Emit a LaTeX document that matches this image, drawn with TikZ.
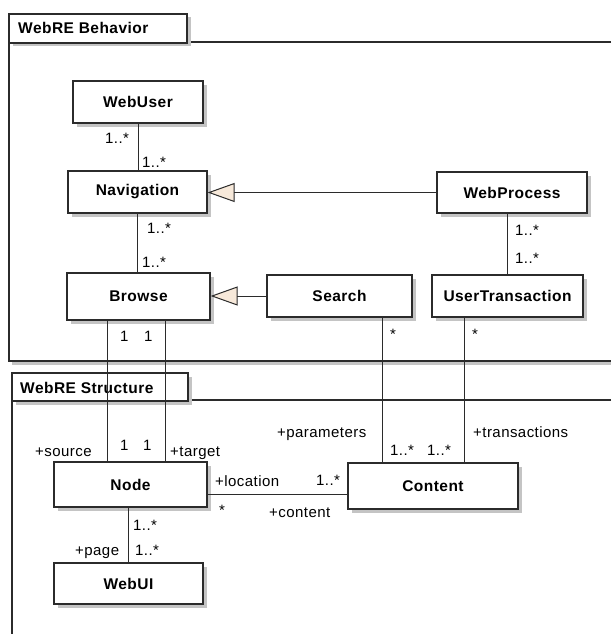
\documentclass[tikz,border=0pt]{standalone}
\usepackage{fontspec}
\setmainfont{Liberation Sans}[LetterSpace=3]
\usetikzlibrary{arrows.meta,shadows}
\definecolor{umlline}{HTML}{2B2B2B}
\definecolor{umltri}{HTML}{F7E9DA}
\definecolor{umlshadow}{HTML}{C4C4C4}

\begin{document}
\begin{tikzpicture}[x=1pt,y=-1pt,
    cls/.style={draw=umlline,line width=1.2pt,fill=white,inner sep=0pt,
        font=\fontsize{15.5}{18}\selectfont\bfseries,
        drop shadow={shadow xshift=3.5pt,shadow yshift=-3.5pt,fill=umlshadow,opacity=1}},
    tabbox/.style={draw=umlline,line width=1.2pt,fill=white,
        drop shadow={shadow xshift=3.5pt,shadow yshift=-3.5pt,fill=umlshadow,opacity=1}},
    ttl/.style={font=\fontsize{15.5}{18}\selectfont\bfseries,inner sep=0pt,anchor=base west},
    lbl/.style={font=\fontsize{15}{18}\selectfont,inner sep=0pt,anchor=base west},
    frame/.style={draw=umlline,line width=1.2pt},
    assoc/.style={draw=umlline,line width=1pt},
    inherit/.style={assoc,-{Triangle[length=27pt,width=19pt,fill=umltri]}}]
    \useasboundingbox (0,0) rectangle (611,634);
    \draw[umlshadow,line width=2.5pt] (12,363.5) -- (611,363.5);
    \draw[frame] (611,42) -- (9,42) -- (9,361) -- (611,361);
    \draw[tabbox] (9,14) rectangle (187,43);
    \node[ttl] (behttl) at (18,34) {WebRE Behavior};
    \draw[frame] (611,400) -- (12,400) -- (12,640);
    \draw[tabbox] (12,373) rectangle (188,401);
    \node[ttl] (strttl) at (20,393) {WebRE Structure};

    \node[cls,minimum width=130pt,minimum height=42pt] (webuser) at (138,102) {WebUser};
    \node[cls,minimum width=139pt,minimum height=42pt] (navigation) at (137.5,192) {Navigation};
    \node[cls,minimum width=150pt,minimum height=41pt] (webprocess) at (512,192.5) {WebProcess};
    \node[cls,minimum width=143pt,minimum height=47pt] (browse) at (138.5,296.5) {Browse};
    \node[cls,minimum width=145pt,minimum height=42pt] (search) at (339.5,296) {Search};
    \node[cls,minimum width=151pt,minimum height=42pt] (usertrans) at (507.5,296) {UserTransaction};
    \node[cls,minimum width=153pt,minimum height=45pt] (webnode) at (130.5,484.5) {Node};
    \node[cls,minimum width=170pt,minimum height=46pt] (content) at (433,486) {Content};
    \node[cls,minimum width=149pt,minimum height=41pt] (webui) at (128.5,583.5) {WebUI};

    \draw[assoc] (webuser.south) -- (webuser.south |- navigation.north);
    \draw[assoc] (navigation.south) -- (navigation.south |- browse.north);
    \draw[inherit] (webprocess.west) -- (webprocess.west -| navigation.east);
    \draw[inherit] (search.west) -- (search.west -| browse.east);
    \draw[assoc] (usertrans.north) -- (usertrans.north |- webprocess.south);
    \draw[assoc] ([xshift=-31.5pt]browse.south) -- ([xshift=-31.5pt]browse.south |- webnode.north);
    \draw[assoc] ([xshift=26.5pt]browse.south) -- ([xshift=26.5pt]browse.south |- webnode.north);
    \draw[assoc] ([xshift=42.5pt]search.south) -- ([xshift=42.5pt]search.south |- content.north);
    \draw[assoc] ([xshift=-43.5pt]usertrans.south) -- ([xshift=-43.5pt]usertrans.south |- content.north);
    \draw[assoc] ([yshift=-9.5pt]webnode.east) -- ([yshift=-9.5pt]webnode.east -| content.west);
    \draw[assoc] (webui.north) -- (webui.north |- webnode.south);

    \node[lbl] (usrm) at (105,143) {1..*};
    \node[lbl] (navm) at (142,167) {1..*};
    \node[lbl] (navb) at (147,233) {1..*};
    \node[lbl] (brwn) at (142,267) {1..*};
    \node[lbl] (wpm) at (515,235) {1..*};
    \node[lbl] (utm) at (515,263) {1..*};
    \node[lbl] (srcone) at (120,341) {1};
    \node[lbl] (tgtone) at (144,341) {1};
    \node[lbl] (srchm) at (390,339) {*};
    \node[lbl] (utstar) at (472,339) {*};
    \node[lbl] (source) at (35,456) {+source};
    \node[lbl] (srcnd) at (120,450) {1};
    \node[lbl] (tgtnd) at (143,450) {1};
    \node[lbl] (target) at (170,456) {+target};
    \node[lbl] (params) at (277,437) {+parameters};
    \node[lbl] (parm) at (390,455) {1..*};
    \node[lbl] (transm) at (427,455) {1..*};
    \node[lbl] (trans) at (473,437) {+transactions};
    \node[lbl] (locat) at (215,486) {+location};
    \node[lbl] (locm) at (316,485) {1..*};
    \node[lbl] (contm) at (219,515) {*};
    \node[lbl] (cont) at (269,517) {+content};
    \node[lbl] (pagem) at (133,530) {1..*};
    \node[lbl] (uim) at (135,555) {1..*};
    \node[lbl] (page) at (75,555) {+page};
\end{tikzpicture}
\end{document}
